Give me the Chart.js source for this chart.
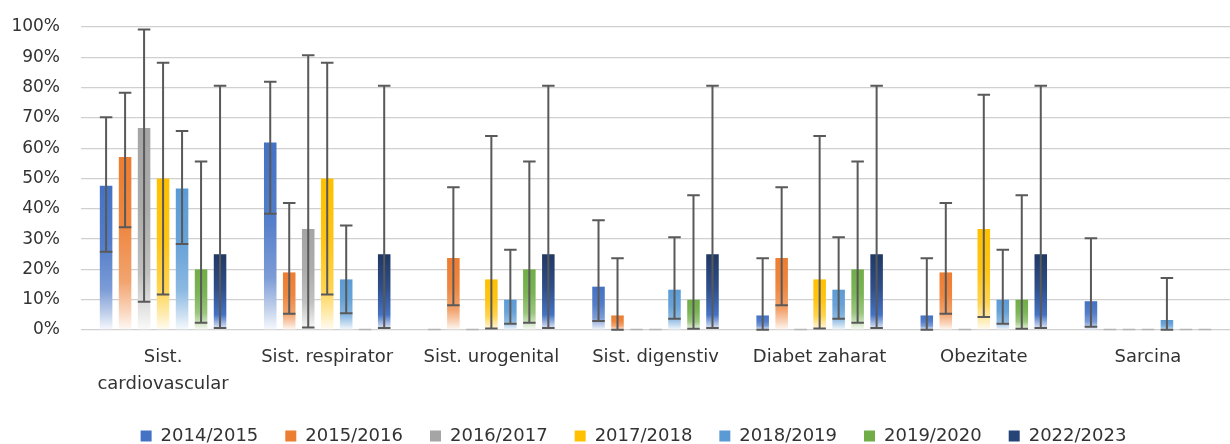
<!doctype html>
<html lang="ro">

<head>
    <meta charset="utf-8">
    <title>Grafic</title>
    <script src="https://cdn.jsdelivr.net/npm/chart.js"></script>
    <style>
        body { margin: 0; background: #fff; }
        #wrap { width: 1230px; height: 444px; }
    </style>
</head>

<body>
    <div id="wrap"><canvas id="grafic"></canvas></div>
    <script>
        const categorii = [["Sist.", "cardiovascular"], "Sist. respirator", "Sist. urogenital", "Sist. digenstiv", "Diabet zaharat", "Obezitate", "Sarcina"];
        const ani = ["2014/2015", "2015/2016", "2016/2017", "2017/2018", "2018/2019", "2019/2020", "2022/2023"];
        const culori = ["#4472C4", "#ED7D31", "#A5A5A5", "#FFC000", "#5B9BD5", "#70AD47", "#264478"];

        // procente pe an
        const v2014 = [47.6, 61.9, 0, 14.3, 4.8, 4.8, 9.5];
        const v2015 = [57.1, 19.0, 23.8, 4.8, 23.8, 19.0, 0];
        const v2016 = [66.7, 33.3, 0, 0, 0, 0, 0];
        const v2017 = [50, 50, 16.7, 0, 16.7, 33.3, 0];
        const v2018 = [46.7, 16.7, 10, 13.3, 13.3, 10, 3.3];
        const v2019 = [20, 0, 20, 10, 20, 10, 0];
        const v2022 = [25, 25, 25, 25, 25, 25, 0];

        // intervale de incredere (jos / sus)
        const jos2014 = [25.8, 38.4, 0, 3.0, 0.1, 0.1, 1.1];
        const sus2014 = [70.2, 81.9, 0, 36.2, 23.7, 23.7, 30.3];
        const jos2015 = [33.9, 5.4, 8.2, 0.1, 8.2, 5.4, 0];
        const sus2015 = [78.3, 41.9, 47.1, 23.7, 47.1, 41.9, 0];
        const jos2016 = [9.3, 0.8, 0, 0, 0, 0, 0];
        const sus2016 = [99.2, 90.7, 0, 0, 0, 0, 0];
        const jos2017 = [11.7, 11.7, 0.5, 0, 0.5, 4.3, 0];
        const sus2017 = [88.2, 88.2, 64.0, 0, 64.0, 77.6, 0];
        const jos2018 = [28.4, 5.5, 2.1, 3.7, 3.7, 2.1, 0.1];
        const sus2018 = [65.7, 34.5, 26.5, 30.6, 30.6, 26.5, 17.2];
        const jos2019 = [2.4, 0, 2.4, 0.4, 2.4, 0.4, 0];
        const sus2019 = [55.6, 0, 55.6, 44.5, 55.6, 44.5, 0];
        const jos2022 = [0.7, 0.7, 0.7, 0.7, 0.7, 0.7, 0];
        const sus2022 = [80.6, 80.6, 80.6, 80.6, 80.6, 80.6, 0];

        const valori = [v2014, v2015, v2016, v2017, v2018, v2019, v2022];
        const jos = [jos2014, jos2015, jos2016, jos2017, jos2018, jos2019, jos2022];
        const sus = [sus2014, sus2015, sus2016, sus2017, sus2018, sus2019, sus2022];

        function tint(hex, t) {
            const n = parseInt(hex.slice(1), 16);
            const r = (n >> 16) & 255, g = (n >> 8) & 255, b = n & 255;
            const f = c => Math.round(c + (255 - c) * t);
            return "rgb(" + f(r) + "," + f(g) + "," + f(b) + ")";
        }

        function gradient(i) {
            return function (ctx) {
                const chart = ctx.chart;
                const baza = culori[i];
                if (!chart.chartArea || ctx.raw == null) return baza;
                const y = chart.scales.y;
                const top = y.getPixelForValue(ctx.raw);
                const bottom = y.getPixelForValue(0);
                if (bottom - top < 1) return baza;
                const g = chart.ctx.createLinearGradient(0, top, 0, bottom);
                if (i == 6) {
                    g.addColorStop(0, "#203864");
                    g.addColorStop(0.45, "#2f4f8a");
                    g.addColorStop(0.8, "#4472C4");
                    g.addColorStop(1, "#f2f5fb");
                } else {
                    g.addColorStop(0, baza);
                    g.addColorStop(0.4, tint(baza, 0.08));
                    g.addColorStop(0.72, tint(baza, 0.3));
                    g.addColorStop(0.9, tint(baza, 0.7));
                    g.addColorStop(1, tint(baza, 0.96));
                }
                return g;
            };
        }

        const datasets = [];
        for (i = 0; i < ani.length; i++) {
            datasets.push({
                label: ani[i],
                data: valori[i],
                backgroundColor: gradient(i),
                borderWidth: 0,
                categoryPercentage: 0.81,
                barPercentage: 0.66
            });
        }

        const erori = {
            id: 'erori',
            afterDatasetsDraw(chart) {
                const c = chart.ctx;
                const y = chart.scales.y;
                c.save();
                chart.data.datasets.forEach((ds, i) => {
                    const meta = chart.getDatasetMeta(i);
                    meta.data.forEach((bar, j) => {
                        const w = bar.width;
                        if (valori[i][j] == 0 && sus[i][j] == 0) {
                            const y0 = y.getPixelForValue(0);
                            c.strokeStyle = "#b4b4b4";
                            c.lineWidth = 1.5;
                            c.beginPath();
                            c.moveTo(bar.x - w / 2, y0 - 0.5);
                            c.lineTo(bar.x + w / 2, y0 - 0.5);
                            c.stroke();
                            return;
                        }
                        const yj = y.getPixelForValue(jos[i][j]);
                        const ys = y.getPixelForValue(sus[i][j]);
                        c.strokeStyle = "#595959";
                        c.lineWidth = 2;
                        c.beginPath();
                        c.moveTo(bar.x, yj);
                        c.lineTo(bar.x, ys);
                        c.moveTo(bar.x - w / 2, yj);
                        c.lineTo(bar.x + w / 2, yj);
                        c.moveTo(bar.x - w / 2, ys);
                        c.lineTo(bar.x + w / 2, ys);
                        c.stroke();
                    });
                });
                c.restore();
            }
        };

        // legenda putin mai jos si mai la dreapta, ca in original
        const mutaLegenda = {
            id: 'mutaLegenda',
            afterLayout(chart) {
                const l = chart.legend;
                l.top += 11;
                l.bottom += 11;
                l.left += 13;
                l.right += 13;
            }
        };

        new Chart(document.getElementById('grafic'), {
            type: 'bar',
            data: {
                labels: categorii,
                datasets: datasets
            },
            options: {
                responsive: true,
                maintainAspectRatio: false,
                animation: false,
                layout: {
                    padding: { top: 27, left: 0, right: -11, bottom: 0 }
                },
                scales: {
                    x: {
                        grid: { display: false },
                        border: { display: false },
                        ticks: {
                            color: "#333333",
                            padding: 6,
                            maxRotation: 0,
                            autoSkip: false,
                            font: { family: "DejaVu Sans", size: 18, lineHeight: 1.5 }
                        },
                        afterFit: s => { s.height = 59; }
                    },
                    y: {
                        min: 0,
                        max: 100,
                        border: { display: false },
                        grid: { color: "#d0d0d0", lineWidth: 1.3, drawTicks: false },
                        ticks: {
                            stepSize: 10,
                            color: "#333333",
                            padding: 21,
                            font: { family: "DejaVu Sans", size: 17 },
                            callback: v => v + "%"
                        },
                        afterFit: s => { s.width = 81; s.paddingTop = 0; }
                    }
                },
                plugins: {
                    tooltip: { enabled: false },
                    legend: {
                        position: 'bottom',
                        labels: {
                            color: "#333333",
                            boxWidth: 11,
                            boxHeight: 11,
                            padding: 27,
                            font: { family: "DejaVu Sans", size: 18 },
                            generateLabels: chart => chart.data.datasets.map((ds, i) => ({
                                text: ds.label,
                                fillStyle: culori[i],
                                strokeStyle: culori[i],
                                lineWidth: 0,
                                fontColor: "#333333",
                                datasetIndex: i
                            }))
                        }
                    }
                }
            },
            plugins: [erori, mutaLegenda]
        });
    </script>
</body>

</html>
